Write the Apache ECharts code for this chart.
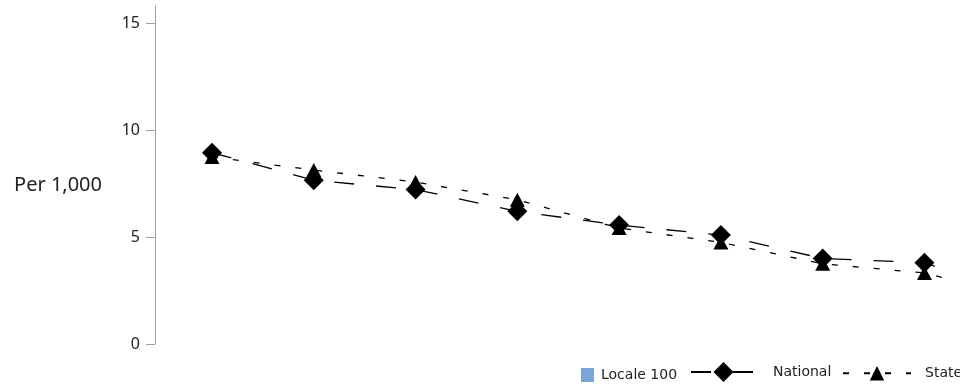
<!DOCTYPE html>
<html>
<head>
<meta charset="utf-8">
<script src="https://cdn.jsdelivr.net/npm/echarts@6/dist/echarts.min.js"></script>
<style>
	html, body { margin: 0; padding: 0; background: #fff; }
	#chart { width: 960px; height: 386px; }
</style>
</head>
<body>
<div id="chart"></div>
<script>
	// data
	const periods = [1, 2, 3, 4, 5, 6, 7, 8];
	const nationalValues = [8.94, 7.65, 7.22, 6.2, 5.56, 5.09, 4.0, 3.8];
	const stateValues = [8.74, 8.13, 7.57, 6.74, 5.42, 4.75, 3.75, 3.32];
	// where the lines are cut at the right edge of the plot
	const lineEndPeriod = 8.3;
	const nationalEnd = 3.3;
	const stateEnd = 2.95;
	const yTicks = [0, 5, 10, 15];
	const seriesNames = ['Locale 100', 'National', 'State'];

	const toPoints = (values, endValue) => {
		const pts = values.map((v, i) => [periods[i], v]);
		pts.push({ value: [lineEndPeriod, endValue], symbol: 'none' });
		return pts;
	};

	const chart = echarts.init(document.getElementById('chart'));

	const legendText = {
		fontFamily: 'DejaVu Sans',
		fontSize: 14,
		color: '#222'
	};

	chart.setOption({
		animation: false,
		grid: {
			left: 155,
			right: 5,
			top: 6,
			bottom: 42
		},
		legend: [
			{
				data: [seriesNames[0]],
				left: 581,
				top: 368,
				padding: 0,
				icon: 'rect',
				itemWidth: 13,
				itemHeight: 14,
				textStyle: { ...legendText, padding: [2, 0, 0, 2] }
			},
			{
				data: [seriesNames[1]],
				left: 690,
				top: 362,
				padding: 0,
				itemWidth: 65,
				itemHeight: 25,
				textStyle: { ...legendText, padding: [7, 0, 0, 12] }
			},
			{
				data: [seriesNames[2]],
				left: 842,
				top: 366,
				padding: 0,
				itemWidth: 68,
				itemHeight: 18,
				textStyle: { ...legendText, padding: [3, 0, 0, 9] }
			}
		],
		xAxis: {
			type: 'value',
			min: 0.44,
			max: lineEndPeriod,
			show: false
		},
		yAxis: {
			type: 'value',
			min: 0,
			max: 15.8,
			interval: 5,
			name: 'Per 1,000',
			nameLocation: 'middle',
			nameRotate: 0,
			nameGap: 53,
			nameTextStyle: {
				fontFamily: 'Noto Sans',
				fontSize: 20,
				color: '#222',
				verticalAlign: 'top'
			},
			axisLine: {
				show: true,
				lineStyle: { color: '#a0a0a0', width: 1 }
			},
			axisTick: {
				show: true,
				length: 9,
				customValues: yTicks,
				lineStyle: { color: '#a0a0a0' }
			},
			axisLabel: {
				customValues: yTicks,
				margin: 15,
				fontFamily: 'Noto Sans',
				fontSize: 16,
				color: '#222'
			},
			splitLine: { show: false }
		},
		series: [
			{
				name: seriesNames[0],
				type: 'bar',
				data: [],
				itemStyle: { color: '#7ba5d8' }
			},
			{
				name: seriesNames[1],
				type: 'line',
				data: toPoints(nationalValues, nationalEnd),
				symbol: 'diamond',
				symbolSize: 20,
				itemStyle: { color: '#000' },
				lineStyle: { color: '#000', width: 1.3, type: [20, 22] },
				z: 3
			},
			{
				name: seriesNames[2],
				type: 'line',
				data: toPoints(stateValues, stateEnd),
				symbol: 'triangle',
				symbolSize: [15, 14],
				itemStyle: { color: '#000' },
				lineStyle: { color: '#000', width: 1.3, type: [6, 15] },
				z: 2
			}
		]
	});
</script>
</body>
</html>
